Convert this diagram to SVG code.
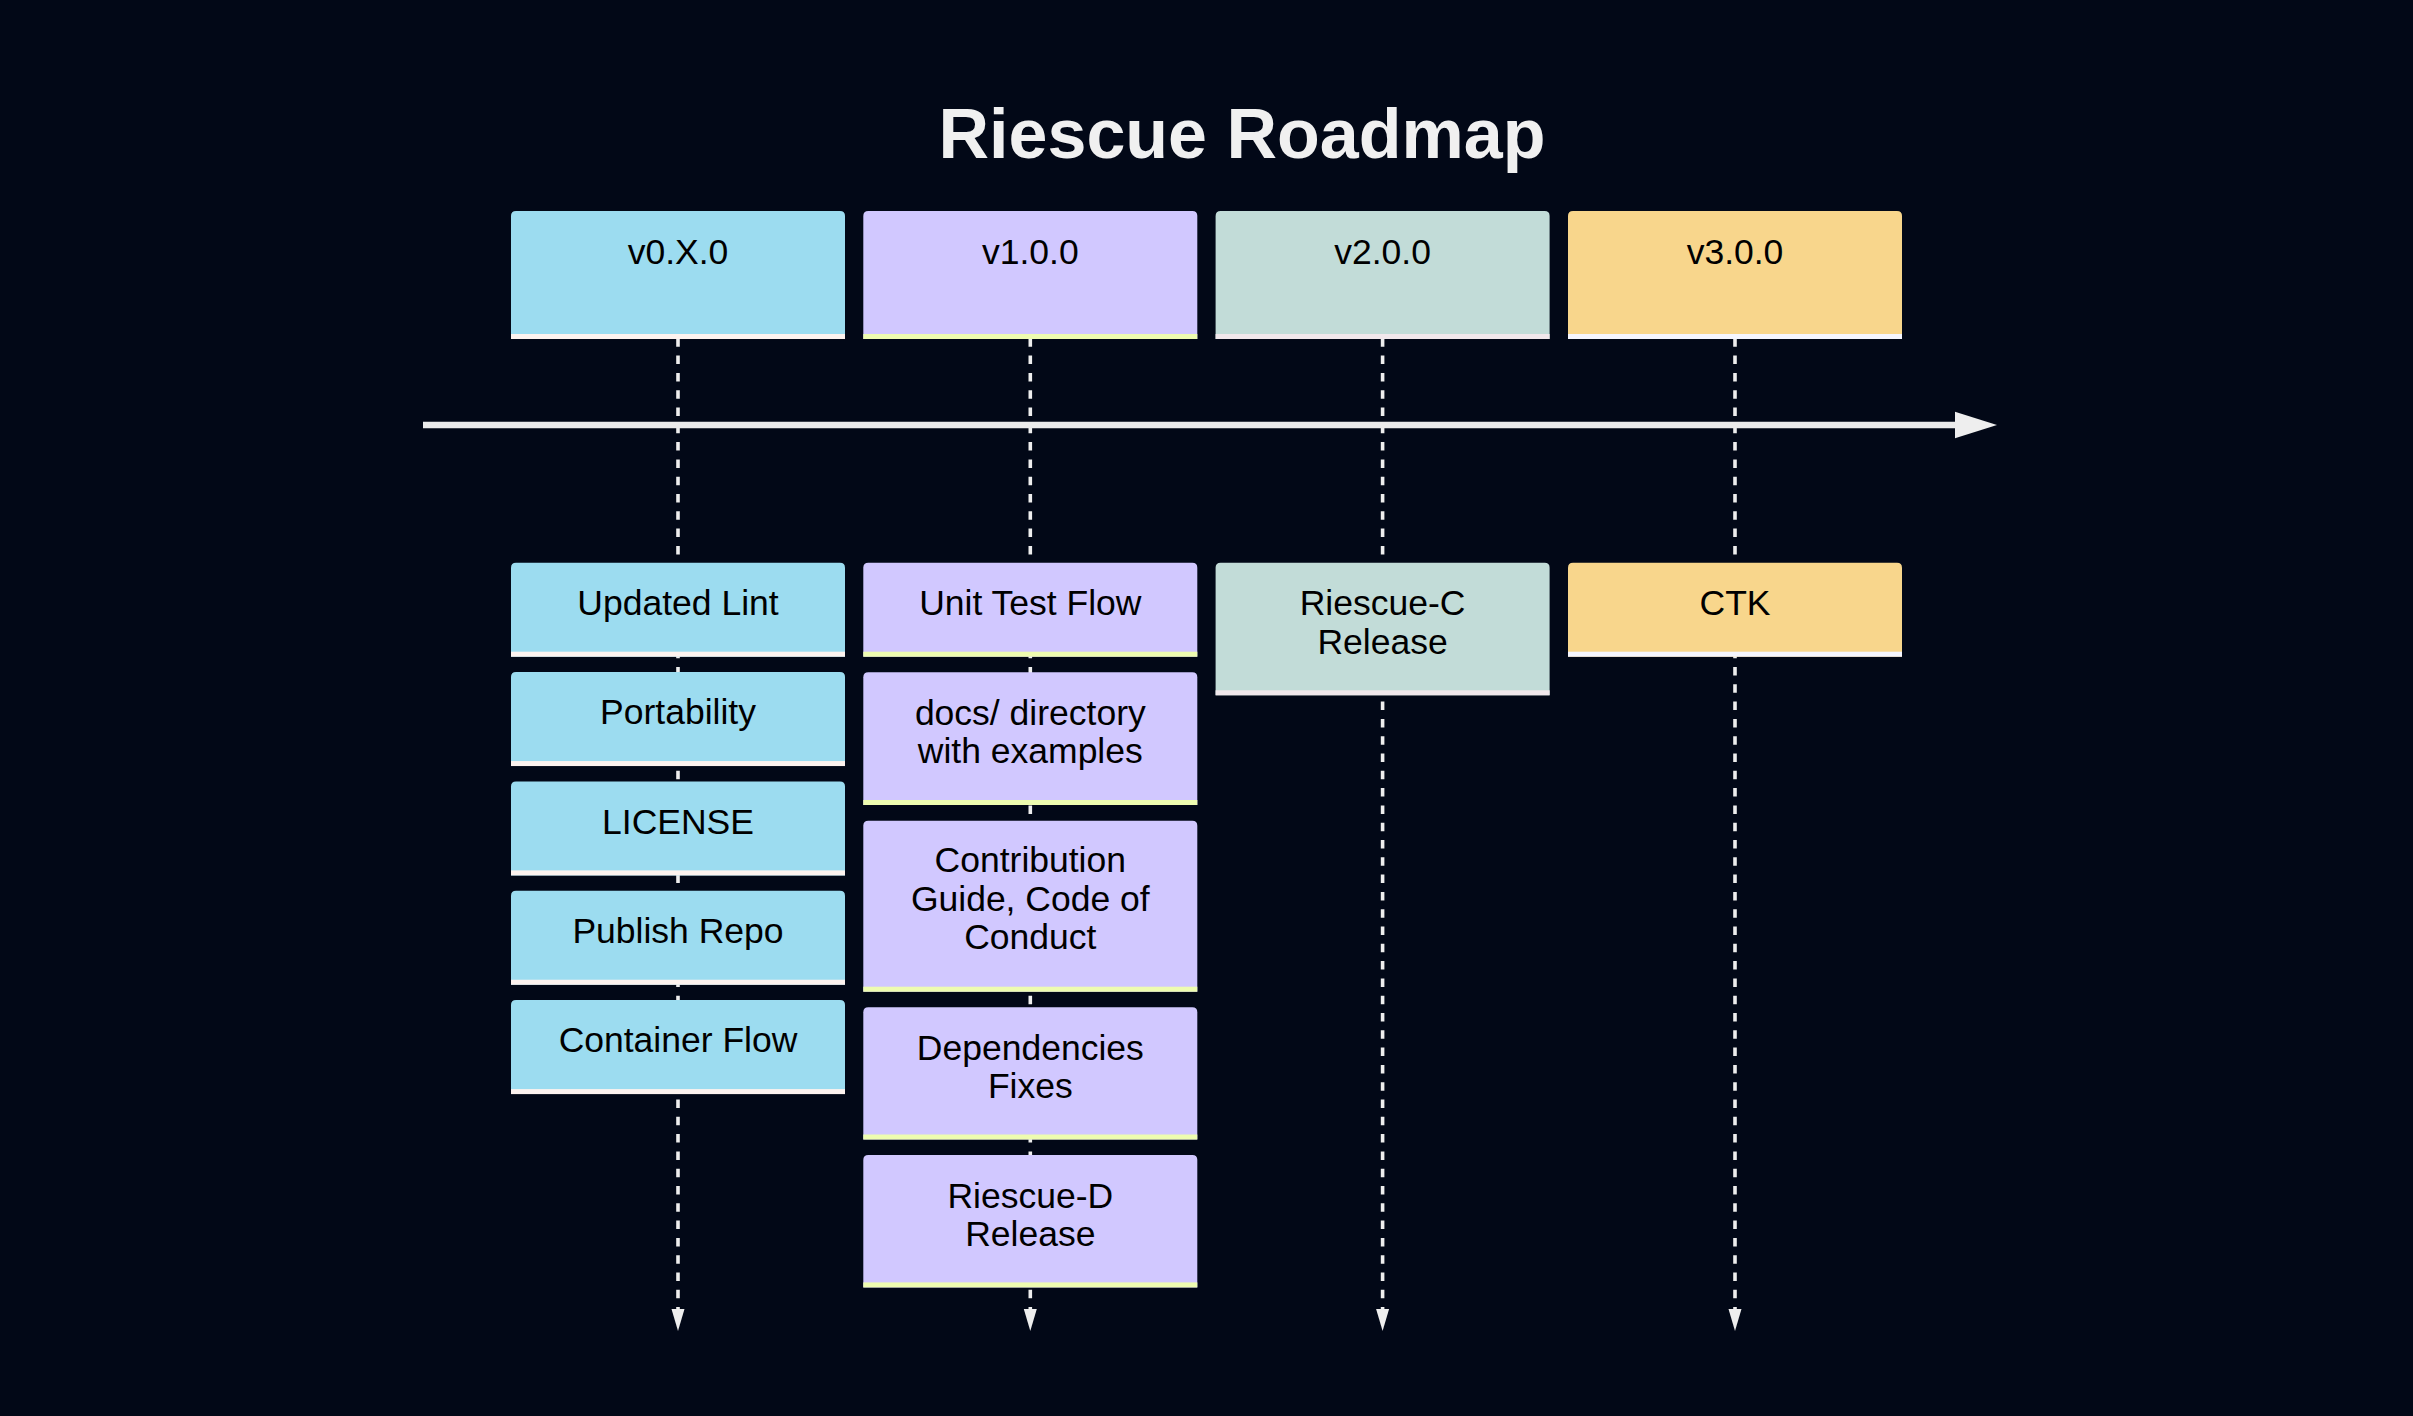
<svg xmlns="http://www.w3.org/2000/svg" width="2413" height="1416" viewBox="0 0 2413 1416">
<style>
.bg{fill:#020817}
.title{font-family:"Liberation Sans",Arial,sans-serif;font-weight:bold;font-size:70px;fill:#f0f0f0;text-anchor:middle}
.t{font-family:"Liberation Sans",Arial,sans-serif;font-size:35.5px;fill:#000;text-anchor:middle}
.c0{fill:#9cdcf0}.s0{fill:#fdf3ef}
.c1{fill:#d1c8ff}.s1{fill:#eefcb0}
.c2{fill:#c2dcd8}.s2{fill:#f1e8ec}
.c3{fill:#f8d68c}.s3{fill:#f5f6ff}
.vline{stroke:#eeeeee;stroke-width:3.6;stroke-dasharray:8.5 8.8;fill:none}
.hline{stroke:#ececec;stroke-width:6.7;fill:none}
.ah{fill:#eeeeee}
</style>
<rect class="bg" x="0" y="0" width="2413" height="1416"/>
<text class="title" x="1242" y="158">Riescue Roadmap</text>
<g id="connectors">
<line class="vline" x1="678" y1="338.3" x2="678" y2="1309"/>
<polygon class="ah" points="671.5,1309 684.5,1309 678,1331"/>
<line class="vline" x1="1030.3" y1="338.3" x2="1030.3" y2="1309"/>
<polygon class="ah" points="1023.8,1309 1036.8,1309 1030.3,1331"/>
<line class="vline" x1="1382.6" y1="338.3" x2="1382.6" y2="1309"/>
<polygon class="ah" points="1376.1,1309 1389.1,1309 1382.6,1331"/>
<line class="vline" x1="1735" y1="338.3" x2="1735" y2="1309"/>
<polygon class="ah" points="1728.5,1309 1741.5,1309 1735,1331"/>
<line class="hline" x1="423" y1="425" x2="1956" y2="425"/>
<polygon class="ah" points="1955,411.7 1997,425 1955,438.3"/>
</g>
<g id="v0">
<path class="c0" d="M511,216 q0,-5 5,-5 h324 q5,0 5,5 V339 H511 Z"/><rect class="s0" x="511" y="334" width="334" height="5"/>
<text class="t" x="678" y="264">v0.X.0</text>
</g>
<g id="v1">
<path class="c1" d="M863.3,216 q0,-5 5,-5 h324 q5,0 5,5 V339 H863.3 Z"/><rect class="s1" x="863.3" y="334" width="334" height="5"/>
<text class="t" x="1030.3" y="264">v1.0.0</text>
</g>
<g id="v2">
<path class="c2" d="M1215.6,216 q0,-5 5,-5 h324 q5,0 5,5 V339 H1215.6 Z"/><rect class="s2" x="1215.6" y="334" width="334" height="5"/>
<text class="t" x="1382.6" y="264">v2.0.0</text>
</g>
<g id="v3">
<path class="c3" d="M1568,216 q0,-5 5,-5 h324 q5,0 5,5 V339 H1568 Z"/><rect class="s3" x="1568" y="334" width="334" height="5"/>
<text class="t" x="1735" y="264">v3.0.0</text>
</g>
<g id="updated-lint">
<path class="c0" d="M511,567.7 q0,-5 5,-5 h324 q5,0 5,5 V656.7 H511 Z"/><rect class="s0" x="511" y="651.7" width="334" height="5"/>
<text class="t" x="678" y="615">Updated Lint</text>
</g>
<g id="portability">
<path class="c0" d="M511,677.05 q0,-5 5,-5 h324 q5,0 5,5 V766.05 H511 Z"/><rect class="s0" x="511" y="761.05" width="334" height="5"/>
<text class="t" x="678" y="724.35">Portability</text>
</g>
<g id="license">
<path class="c0" d="M511,786.4 q0,-5 5,-5 h324 q5,0 5,5 V875.4 H511 Z"/><rect class="s0" x="511" y="870.4" width="334" height="5"/>
<text class="t" x="678" y="833.7">LICENSE</text>
</g>
<g id="publish-repo">
<path class="c0" d="M511,895.75 q0,-5 5,-5 h324 q5,0 5,5 V984.75 H511 Z"/><rect class="s0" x="511" y="979.75" width="334" height="5"/>
<text class="t" x="678" y="943.05">Publish Repo</text>
</g>
<g id="container-flow">
<path class="c0" d="M511,1005.1 q0,-5 5,-5 h324 q5,0 5,5 V1094.1 H511 Z"/><rect class="s0" x="511" y="1089.1" width="334" height="5"/>
<text class="t" x="678" y="1052.4">Container Flow</text>
</g>
<g id="unit-test-flow">
<path class="c1" d="M863.3,567.7 q0,-5 5,-5 h324 q5,0 5,5 V656.7 H863.3 Z"/><rect class="s1" x="863.3" y="651.7" width="334" height="5"/>
<text class="t" x="1030.3" y="615">Unit Test Flow</text>
</g>
<g id="docs-directory">
<path class="c1" d="M863.3,677.3 q0,-5 5,-5 h324 q5,0 5,5 V805 H863.3 Z"/><rect class="s1" x="863.3" y="800" width="334" height="5"/>
<text class="t" x="1030.3" y="724.6">docs/ directory</text>
<text class="t" x="1030.3" y="763.1">with examples</text>
</g>
<g id="contribution-guide">
<path class="c1" d="M863.3,825.7 q0,-5 5,-5 h324 q5,0 5,5 V991.7 H863.3 Z"/><rect class="s1" x="863.3" y="986.7" width="334" height="5"/>
<text class="t" x="1030.3" y="872">Contribution</text>
<text class="t" x="1030.3" y="910.5">Guide, Code of</text>
<text class="t" x="1030.3" y="949">Conduct</text>
</g>
<g id="dependencies-fixes">
<path class="c1" d="M863.3,1012.3 q0,-5 5,-5 h324 q5,0 5,5 V1139.5 H863.3 Z"/><rect class="s1" x="863.3" y="1134.5" width="334" height="5"/>
<text class="t" x="1030.3" y="1059.8">Dependencies</text>
<text class="t" x="1030.3" y="1098.3">Fixes</text>
</g>
<g id="riescue-d">
<path class="c1" d="M863.3,1160 q0,-5 5,-5 h324 q5,0 5,5 V1287.4 H863.3 Z"/><rect class="s1" x="863.3" y="1282.4" width="334" height="5"/>
<text class="t" x="1030.3" y="1207.8">Riescue-D</text>
<text class="t" x="1030.3" y="1246.3">Release</text>
</g>
<g id="riescue-c">
<path class="c2" d="M1215.6,567.7 q0,-5 5,-5 h324 q5,0 5,5 V695.3 H1215.6 Z"/><rect class="s2" x="1215.6" y="690.3" width="334" height="5"/>
<text class="t" x="1382.6" y="615">Riescue-C</text>
<text class="t" x="1382.6" y="653.5">Release</text>
</g>
<g id="ctk">
<path class="c3" d="M1568,567.7 q0,-5 5,-5 h324 q5,0 5,5 V656.7 H1568 Z"/><rect class="s3" x="1568" y="651.7" width="334" height="5"/>
<text class="t" x="1735" y="615">CTK</text>
</g>
</svg>
